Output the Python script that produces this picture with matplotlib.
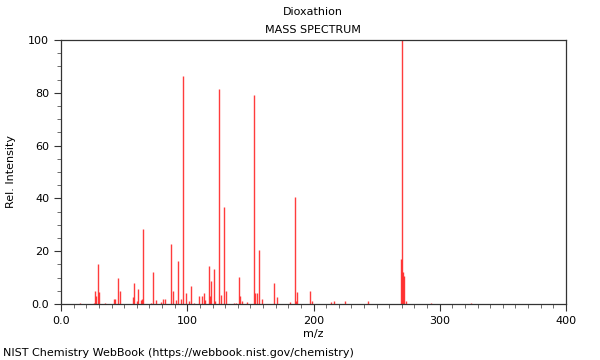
import numpy as np
import matplotlib
matplotlib.use('Agg')
import matplotlib.pyplot as plt
from matplotlib.ticker import MultipleLocator, FuncFormatter

# Dioxathion - NIST kutle spektrumu
mz = [15, 26, 27, 28, 29, 30, 35, 42, 43, 45, 47, 57, 58, 60, 61, 63, 64, 65,
      71, 73, 75, 79, 81, 82, 87, 89, 91, 93, 95, 97, 99, 101, 103, 105,
      109, 112, 113, 114, 117, 118, 119, 121, 122, 125, 127, 129, 131,
      137, 139, 141, 142, 143, 147, 153, 154, 155, 157, 159,
      169, 171, 181, 185, 186, 187, 197, 199, 214, 216, 225, 243,
      269, 270, 271, 272, 273, 293, 325]
intensity = [0.3, 0.5, 5.0, 3.0, 15.0, 4.5, 0.5, 2.0, 2.0, 10.0, 5.0, 2.5, 8.0, 1.0, 5.7, 1.5, 2.0, 28.4,
             0.5, 12.2, 1.5, 0.7, 2.0, 2.0, 22.7, 5.0, 1.5, 16.4, 2.0, 86.2, 4.0, 1.0, 7.0, 0.5,
             3.0, 3.0, 4.0, 1.5, 14.4, 3.0, 8.7, 13.1, 1.0, 81.3, 3.5, 36.8, 4.9,
             0.5, 0.5, 10.2, 3.0, 1.0, 0.8, 79.0, 4.0, 4.0, 20.3, 2.0,
             8.0, 2.5, 0.7, 40.5, 1.0, 4.5, 4.8, 1.2, 0.7, 1.0, 1.2, 1.2,
             17.0, 100.0, 12.0, 10.5, 1.0, 0.4, 0.5]

plt.rcParams['font.family'] = 'DejaVu Sans'
fig = plt.figure(figsize=(6, 3.6), dpi=100)
ax = fig.add_axes([0.1017, 0.1556, 0.8416, 0.7333])

ax.vlines(mz, 0, intensity, colors='#ff1a1a', linewidth=1.0, alpha=0.85)

ax.set_xlim(0, 400)
ax.set_ylim(0, 100)
ax.xaxis.set_major_locator(MultipleLocator(100))
ax.xaxis.set_minor_locator(MultipleLocator(10))
ax.yaxis.set_major_locator(MultipleLocator(20))
ax.yaxis.set_minor_locator(MultipleLocator(5))

fmt = FuncFormatter(lambda v, p: '0.0' if v == 0 else '%d' % v)
ax.xaxis.set_major_formatter(fmt)
ax.yaxis.set_major_formatter(fmt)

ax.tick_params(which='major', direction='out', length=5, width=0.8,
               color='#333333', labelsize=8)
ax.tick_params(which='minor', direction='out', length=3, width=0.6, color='#555555')
for s in ax.spines.values():
    s.set_color('#333333')
    s.set_linewidth(0.9)

ax.set_xlabel('m/z', fontsize=8, labelpad=2)
ax.set_ylabel('Rel. Intensity', fontsize=8, labelpad=9)

fig.text(0.522, 0.967, 'Dioxathion', ha='center', va='center', fontsize=8)
fig.text(0.522, 0.917, 'MASS SPECTRUM', ha='center', va='center', fontsize=8)
fig.text(0.005, 0.02, 'NIST Chemistry WebBook (https://webbook.nist.gov/chemistry)',
         ha='left', va='center', fontsize=8)

fig.savefig('out.png', dpi=100)
